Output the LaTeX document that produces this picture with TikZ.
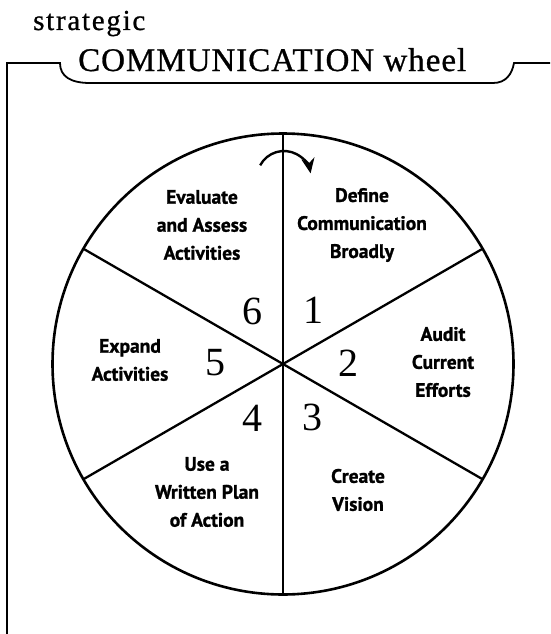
\documentclass[tikz,border=0pt]{standalone}
\usepackage{fontspec}
\setmainfont{Liberation Serif}
\newfontfamily\labelfont[FakeBold=1.2]{PT Sans}
\newfontfamily\titlefont[LetterSpace=6,FakeBold=0.8]{Liberation Serif}
\newfontfamily\titlefontb[LetterSpace=3,FakeBold=0.8]{Liberation Serif}
\usetikzlibrary{arrows.meta,calc}
\begin{document}
\begin{tikzpicture}[x=1pt,y=1pt,
  seglabel/.style={font=\labelfont\bfseries\fontsize{19.5}{28}\selectfont, align=center, inner sep=0pt},
  numlabel/.style={font=\fontsize{40}{40}\selectfont, inner sep=0pt},
  wheelline/.style={line width=2.3pt},
  frameline/.style={line width=1.8pt}]
\useasboundingbox (0,0) rectangle (550,-634);
% title
\node[anchor=base west, inner sep=0pt, font=\titlefont\fontsize{29}{29}\selectfont] (t1) at (33,-30) {strategic};
\node[anchor=base west, inner sep=0pt, font=\titlefontb\fontsize{33}{33}\selectfont] (t2) at (78,-71) {COMMUNICATION wheel};
% frame
\draw[frameline] (7,-634) -- (7,-63) -- (60,-63) .. controls (60,-76) and (70,-83) .. (90,-83)
  -- (493,-83) .. controls (506,-83) and (512,-74) .. (514,-63) -- (550,-63);
% wheel
\coordinate (c) at (283,-364);
\draw[line width=2.6pt] (c) circle (230.5);
\coordinate (pt) at ($(c)+(90:230.5pt)$);
\coordinate (pb) at ($(c)+(270:230.5pt)$);
\coordinate (p30) at ($(c)+(30:230.5pt)$);
\coordinate (p150) at ($(c)+(150:230.5pt)$);
\coordinate (p210) at ($(c)+(210:230.5pt)$);
\coordinate (p330) at ($(c)+(330:230.5pt)$);
\draw[wheelline] (pt) -- (pb);
\draw[wheelline] (p150) -- (p330);
\draw[wheelline] (p210) -- (p30);
% arrow
\coordinate (ac) at (284,-178);
\draw[line width=2.4pt, -{Stealth[length=15pt,width=13pt]}] ($(ac)+(152:27pt)$) arc[start angle=152, end angle=10, radius=27pt];
% segment labels
\node[seglabel] (s1) at (362,-225) {Define\\Communication\\Broadly};
\node[seglabel] (s2) at (443,-362) {Audit\\Current\\Efforts};
\node[seglabel] (s3) at (358,-490) {Create\\Vision};
\node[seglabel] (s4) at (207,-492) {Use a\\Written Plan\\of Action};
\node[seglabel] (s5) at (130,-360) {Expand\\Activities};
\node[seglabel] (s6) at (202,-225) {Evaluate\\and Assess\\Activities};
% numbers
\node[numlabel] (n1) at (313,-310) {1};
\node[numlabel] (n2) at (348,-363) {2};
\node[numlabel] (n3) at (312,-417) {3};
\node[numlabel] (n4) at (252,-418) {4};
\node[numlabel] (n5) at (215,-363) {5};
\node[numlabel] (n6) at (252,-311) {6};
\end{tikzpicture}
\end{document}
